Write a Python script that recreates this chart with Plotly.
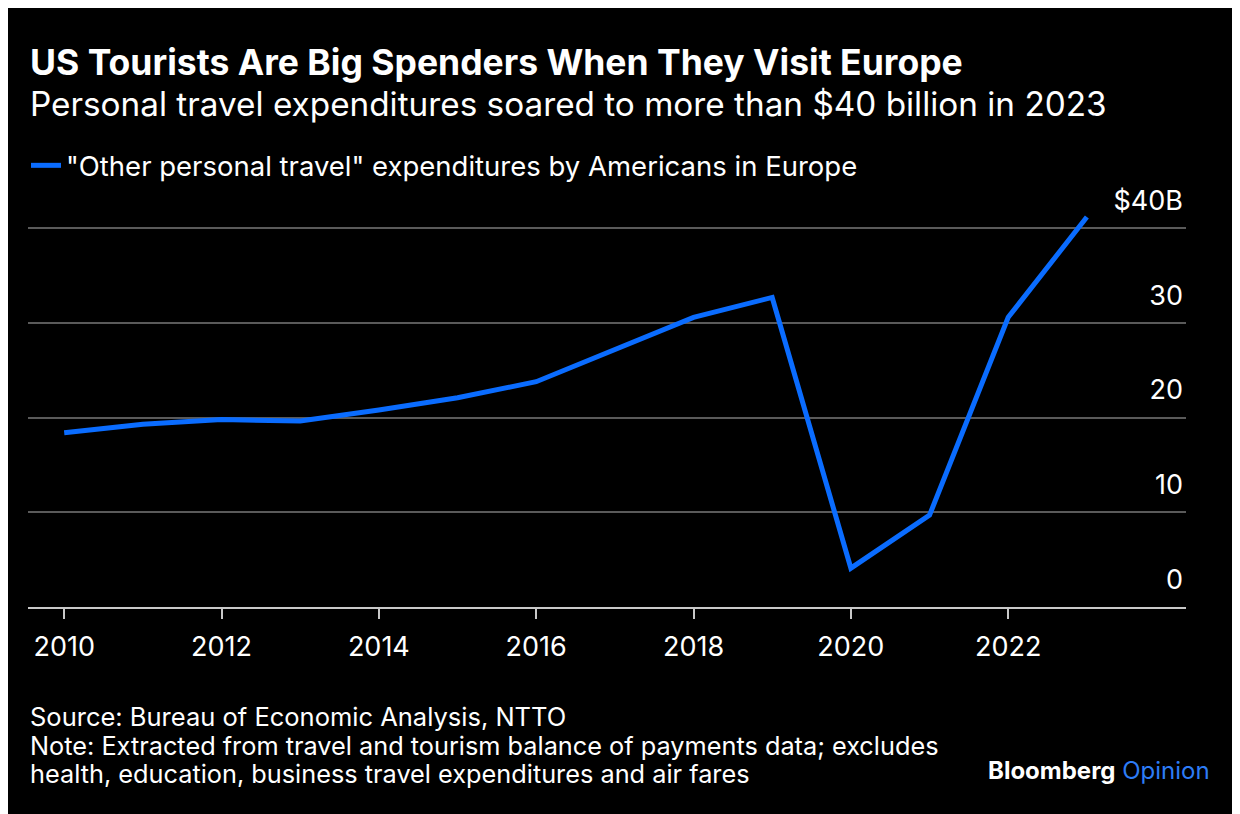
import plotly.graph_objects as go

years = list(range(2010, 2024))
spend = [18.4, 19.3, 19.8, 19.65, 20.8, 22.1, 23.8, 27.2, 30.6, 32.7, 4.1, 9.7, 30.6, 41.2]
series_name = '"Other personal travel" expenditures by Americans in Europe'
x_ticks = [2010, 2012, 2014, 2016, 2018, 2020, 2022]
y_ticks = [0, 10, 20, 30, 40]
y_labels = ["0", "10", "20", "30", "$40B"]

# the page body adds 8px, so the figure is drawn 8px smaller and shifted back
off = 8
W, H = 1240 - off, 814 - off
y_top = 45
left, right = 28 - off, 1186 - off
bottom = 606.7 - off
top = bottom - y_top * 9.47
font = "Inter"


def px_x(p):
    return (p - off - left) / (right - left)


def px_y(p):
    return (bottom - (p - off)) / (bottom - top)


fig = go.Figure()
fig.add_trace(go.Scatter(x=years, y=spend, mode="lines", name=series_name,
                         line=dict(color="#0A6CFF", width=5)))

fig.update_layout(
    width=W, height=H,
    paper_bgcolor="black", plot_bgcolor="black",
    margin=dict(l=left, r=W - right, t=top, b=H - bottom),
    font=dict(family=font, color="white", size=26),
    showlegend=True,
    legend=dict(x=px_x(26), y=px_y(165), xanchor="left", yanchor="middle",
                font=dict(size=27.5), bgcolor="rgba(0,0,0,0)"),
    xaxis=dict(range=[2009.54, 2024.26], tickvals=x_ticks, showgrid=False, zeroline=False,
               showline=True, linecolor="#c8c8c8", linewidth=1.5,
               ticks="outside", ticklen=10, tickwidth=1.5, tickcolor="#c8c8c8",
               tickfont=dict(size=27), ticklabelstandoff=5),
    yaxis=dict(range=[0, y_top], side="right", tickvals=y_ticks, ticktext=y_labels,
               ticklabelposition="inside top", ticklabelshift=-9, showgrid=True,
               gridcolor="#5a5a5a", gridwidth=1.5, zeroline=False, showline=False,
               ticks="", tickfont=dict(size=27)),
)

ann = [
    ("<b>US Tourists Are Big Spenders When They Visit Europe</b>", 28, 62, 35.5),
    ("Personal travel expenditures soared to more than $40 billion in 2023", 28, 104, 33.3),
    ("Source: Bureau of Economic Analysis, NTTO", 28, 716, 25.5),
    ("Note: Extracted from travel and tourism balance of payments data; excludes", 28, 745, 25.3),
    ("health, education, business travel expenditures and air fares", 28, 773, 25.3),
]
for text, x0, y0, size in ann:
    fig.add_annotation(text=text, x=px_x(x0), y=px_y(y0), xref="paper", yref="paper",
                       xanchor="left", yanchor="middle", showarrow=False,
                       font=dict(size=size, color="white", family=font))

fig.add_annotation(text="<b>Bloomberg</b> <span style='color:#2d7cf6'>Opinion</span>",
                   x=px_x(1212), y=px_y(770), xref="paper", yref="paper",
                   xanchor="right", yanchor="middle", showarrow=False,
                   font=dict(size=24, color="white", family=font))

fig.write_html("out.html")
